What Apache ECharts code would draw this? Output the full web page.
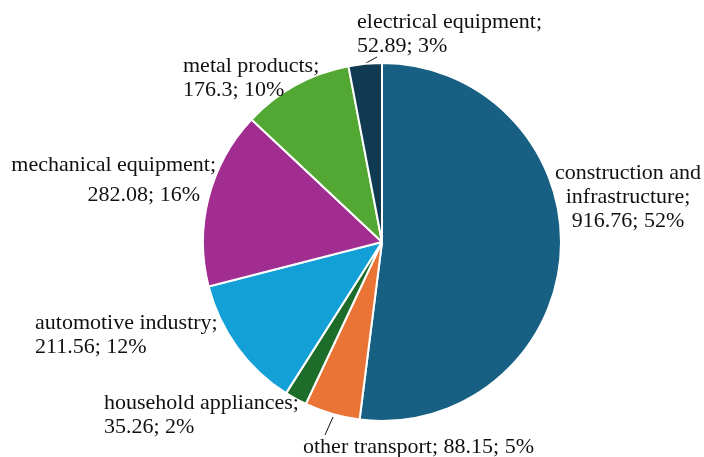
<!DOCTYPE html>
<html>
<head>
<meta charset="utf-8">
<script src="https://cdn.jsdelivr.net/npm/echarts@6/dist/echarts.min.js"></script>
<style>
  html, body { margin: 0; padding: 0; background: #fff; }
  #chart { width: 704px; height: 457px; }
</style>
</head>
<body>
<div id="chart"></div>
<script>
  // sectors, clockwise from 12 o'clock
  const NAMES = [
    "construction and\ninfrastructure",
    "other transport",
    "household appliances",
    "automotive industry",
    "mechanical equipment",
    "metal products",
    "electrical equipment",
  ];
  const VALUES = [916.76, 88.15, 35.26, 211.56, 282.08, 176.3, 52.89];
  const COLORS = ["#176084", "#ea7436", "#1e6c2a", "#13a0d7", "#a02d8f", "#52a833", "#0f3a51"];
  // label breaks after the name (single-line for "other transport")
  const ONE_LINE = [false, true, false, false, false, false, false];

  // where each label sits (anchor, alignment) and the short leader lines
  const LABEL_AT = [
    { x: 628, y: 197, align: "center" },
    { x: 303, y: 447, align: "left" },
    { x: 104, y: 415, align: "left" },
    { x: 35,  y: 335, align: "left" },
    { x: 216, y: 180, align: "right" },
    { x: 183, y: 78,  align: "left" },
    { x: 357, y: 34,  align: "left" },
  ];
  const LEADERS = {
    1: [[333, 417], [329, 426], [325, 435]],
    6: [[358, 67], [368, 62], [377, 57]],
  };

  const FONT = "'Liberation Serif', 'Times New Roman', serif";
  const chart = echarts.init(document.getElementById("chart"), null, { renderer: "canvas" });

  chart.setOption({
    animation: false,
    series: [{
      type: "pie",
      center: [382, 242],
      radius: 179,
      startAngle: 90,
      clockwise: true,
      avoidLabelOverlap: false,
      itemStyle: { borderColor: "#fff", borderWidth: 2 },
      label: {
        show: true,
        color: "#111",
        fontFamily: FONT,
        fontSize: 22,
        lineHeight: 24,
        formatter: (p) => {
          const pct = Math.round(p.percent) + "%";
          const i = p.dataIndex;
          if (ONE_LINE[i]) return `${p.name}; ${p.value}; ${pct}`;
          if (i === 4) return `{a|${p.name};}\n{b|${p.value}; ${pct}}`;
          return `${p.name};\n${p.value}; ${pct}`;
        },
        rich: {
          a: { fontFamily: FONT, fontSize: 22, color: "#111", lineHeight: 30 },
          b: { fontFamily: FONT, fontSize: 22, color: "#111", lineHeight: 30, padding: [0, 16, 0, 0] },
        },
      },
      labelLine: { show: true, length: 8, length2: 8, lineStyle: { color: "#111", width: 1 } },
      labelLayout: (params) => {
        const i = params.dataIndex;
        const L = LABEL_AT[i];
        const out = { x: L.x, y: L.y, align: L.align, verticalAlign: "middle" };
        if (LEADERS[i]) out.labelLinePoints = LEADERS[i];
        return out;
      },
      data: VALUES.map((v, i) => ({
        name: NAMES[i],
        value: v,
        itemStyle: { color: COLORS[i] },
        labelLine: { show: !!LEADERS[i] },
      })),
    }],
  });
</script>
</body>
</html>
